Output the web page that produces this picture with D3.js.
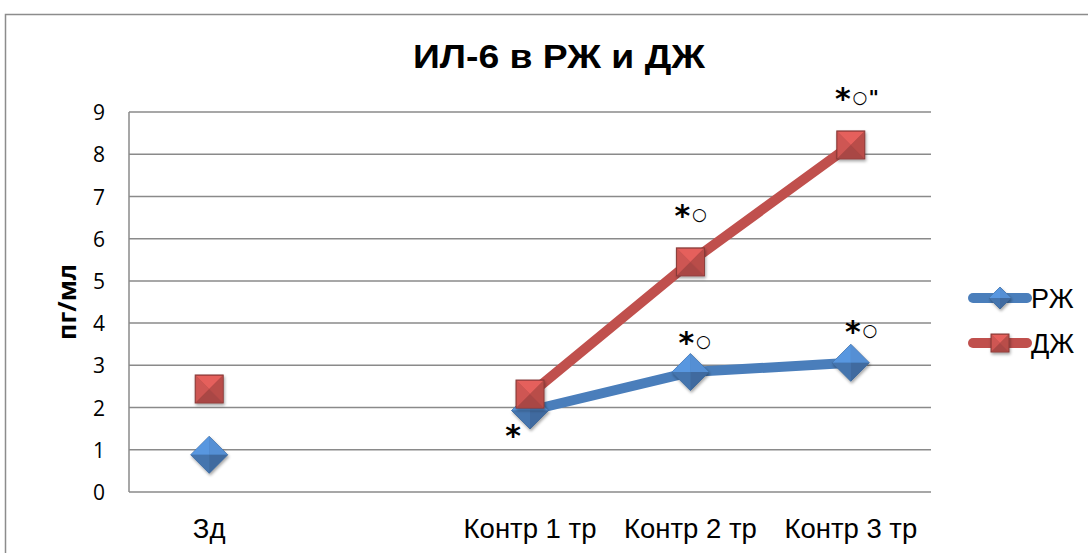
<!DOCTYPE html>
<html><head><meta charset="utf-8">
<script src="https://cdn.jsdelivr.net/npm/d3@7"></script>
<style>body{margin:0;background:#fff}svg{display:block}</style>
</head><body>
<svg id="c" width="1088" height="553"></svg>
<script>
const categories = ["Зд", "", "Контр 1 тр", "Контр 2 тр", "Контр 3 тр"];
const seriesNames = ["РЖ", "ДЖ"];
const rzh = [0.88, null, 1.93, 2.84, 3.06];
const dzh = [2.44, null, 2.32, 5.45, 8.22];
const yTicks = [0,1,2,3,4,5,6,7,8,9];
const rzhNotes = ["", "", "*", "*○", "*○"];
const dzhNotes = ["", "", "", "*○", "*○\""];
const colors = {"РЖ": "#4a7ebb", "ДЖ": "#c0504d"};

const svg = d3.select("#c");
const L = 129, R = 931, T = 112, B = 492;
const x = d3.scaleBand().domain(categories.map((d,i)=>i)).range([L, R]);
const y = d3.scaleLinear().domain([0, 9]).range([B, T]);

// outer border
svg.append("rect").attr("x",5.5).attr("y",14.5).attr("width",1100).attr("height",600)
  .attr("fill","none").attr("stroke","#8c8c8c").attr("stroke-width",1.5);

const defs = svg.append("defs");
const f = defs.append("filter").attr("id","sh").attr("x","-50%").attr("y","-50%").attr("width","200%").attr("height","200%");
f.append("feDropShadow").attr("dx",1).attr("dy",2).attr("stdDeviation",1.5).attr("flood-opacity",0.35);

// title
svg.append("text").attr("x",559).attr("y",68).attr("text-anchor","middle")
  .attr("font-family","Liberation Sans, Arial, sans-serif").attr("font-weight","bold")
  .attr("font-size",34).attr("textLength",292).attr("lengthAdjust","spacingAndGlyphs").text("ИЛ-6 в РЖ и ДЖ");

// gridlines
svg.append("g").selectAll("line").data(yTicks).join("line")
  .attr("x1",L).attr("x2",R).attr("y1",d=>y(d)).attr("y2",d=>y(d))
  .attr("stroke","#8a8a8a").attr("stroke-width",1.5);
svg.append("line").attr("x1",L).attr("x2",L).attr("y1",T).attr("y2",B)
  .attr("stroke","#8a8a8a").attr("stroke-width",1.5);

// y axis labels
const yAxis = d3.axisLeft(y).tickValues(yTicks).tickSize(0).tickPadding(0);
const ya = svg.append("g").attr("transform",`translate(${L-24},0)`).call(yAxis);
ya.select(".domain").remove();
ya.selectAll("text").attr("font-family","Open Sans, sans-serif").attr("font-size",21).attr("fill","#000").attr("dy","0.36em");

// x axis labels
const xAxis = d3.axisBottom(x).tickFormat(i=>categories[i]).tickSize(0).tickPadding(0);
const xa = svg.append("g").attr("transform",`translate(0,${B+46})`).call(xAxis);
xa.select(".domain").remove();
xa.selectAll("text").attr("font-family","Liberation Sans, Arial, sans-serif").attr("font-size",27.5).attr("fill","#000").attr("dy","0");

// y title
svg.append("text").attr("transform",`translate(76,${(T+B)/2}) rotate(-90)`).attr("text-anchor","middle")
  .attr("font-family","Open Sans, sans-serif").attr("font-weight","bold").attr("font-size",25).text("пг/мл");

const cx = i => x(i) + x.bandwidth()/2;

function drawLine(vals, color){
  const line = d3.line().defined(d=>d.v!=null).x(d=>cx(d.i)).y(d=>y(d.v));
  svg.append("path").datum(vals.map((v,i)=>({v,i})))
    .attr("d",line).attr("fill","none").attr("stroke",color).attr("stroke-width",10).attr("stroke-linejoin","round");
}
function diamond(g, px, py, r, base){
  const c = d3.color(base);
  const gg = g.append("g").attr("filter","url(#sh)");
  gg.append("path").attr("d",`M${px},${py-r}L${px+r},${py}L${px},${py+r}L${px-r},${py}Z`).attr("fill",base).attr("stroke",c.darker(0.8)).attr("stroke-width",0.8);
  gg.append("path").attr("d",`M${px},${py-r}L${px+r},${py}L${px},${py}Z`).attr("fill",c.brighter(0.35));
  gg.append("path").attr("d",`M${px},${py-r}L${px-r},${py}L${px},${py}Z`).attr("fill",c.brighter(0.5));
  gg.append("path").attr("d",`M${px-r},${py}L${px},${py+r}L${px},${py}Z`).attr("fill",c.darker(0.2));
  gg.append("path").attr("d",`M${px+r},${py}L${px},${py+r}L${px},${py}Z`).attr("fill",c.darker(0.45));
}
function square(g, px, py, h, base){
  const c = d3.color(base);
  const gg = g.append("g").attr("filter","url(#sh)");
  gg.append("rect").attr("x",px-h).attr("y",py-h).attr("width",2*h).attr("height",2*h).attr("fill",base).attr("stroke",c.darker(1)).attr("stroke-width",1);
  const a=px-h+1,b=px+h-1,t=py-h+1,bt=py+h-1;
  gg.append("path").attr("d",`M${a},${t}L${b},${t}L${px},${py}Z`).attr("fill",c.brighter(0.5));
  gg.append("path").attr("d",`M${a},${t}L${a},${bt}L${px},${py}Z`).attr("fill",c.brighter(0.2));
  gg.append("path").attr("d",`M${b},${t}L${b},${bt}L${px},${py}Z`).attr("fill",c.darker(0.1));
  gg.append("path").attr("d",`M${a},${bt}L${b},${bt}L${px},${py}Z`).attr("fill",c.darker(0.35));
}

drawLine(rzh, colors["РЖ"]);
drawLine(dzh, colors["ДЖ"]);
const mk = svg.append("g");
rzh.forEach((v,i)=>{ if(v!=null) diamond(mk, cx(i), y(v), 18.5, colors["РЖ"]); });
dzh.forEach((v,i)=>{ if(v!=null) square(mk, cx(i), y(v), 14, colors["ДЖ"]); });

// annotations: each symbol drawn as text centred on the same line
function note(txt, px, pyc){
  if(!txt) return;
  const g = svg.append("g");
  let xx = px;
  [...txt].forEach(ch=>{
    if(ch==="*"){
      g.append("text").attr("x",xx).attr("y",pyc+12).attr("text-anchor","middle")
        .attr("font-family","DejaVu Sans, sans-serif").attr("font-weight","bold").attr("font-size",30).text("*");
      xx += 17;
    } else if(ch==="○"){
      g.append("text").attr("x",xx).attr("y",pyc).attr("dominant-baseline","central").attr("text-anchor","middle")
        .attr("font-family","DejaVu Sans, sans-serif").attr("font-size",17).text("○");
      xx += 15;
    } else {
      g.append("text").attr("x",xx-1).attr("y",pyc+7).attr("text-anchor","middle")
        .attr("font-family","DejaVu Sans, sans-serif").attr("font-weight","bold").attr("font-size",20).text(ch);
    }
  });
}
const rzhOff = i => i===2 ? [-17, 23] : (i===3 ? [-4, -31] : [2, -33]);
rzhNotes.forEach((n,i)=>{ if(n){ const o = rzhOff(i); note(n, cx(i)+o[0], y(rzh[i])+o[1]); } });
dzhNotes.forEach((n,i)=>{ if(n) note(n, cx(i)-8, y(dzh[i])-48); });

// legend
const lg = svg.append("g");
seriesNames.forEach((s,k)=>{
  const ly = 298 + k*45;
  lg.append("line").attr("x1",973).attr("x2",1027).attr("y1",ly).attr("y2",ly)
    .attr("stroke",colors[s]).attr("stroke-width",10).attr("stroke-linecap","round");
  if(k===0) diamond(lg, 1000, ly, 11, colors[s]); else square(lg, 1000, ly, 9, colors[s]);
  lg.append("text").attr("x",1031).attr("y",ly+10).attr("font-family","Liberation Sans, Arial, sans-serif")
    .attr("font-size",27).text(s);
});
</script>
</body></html>
